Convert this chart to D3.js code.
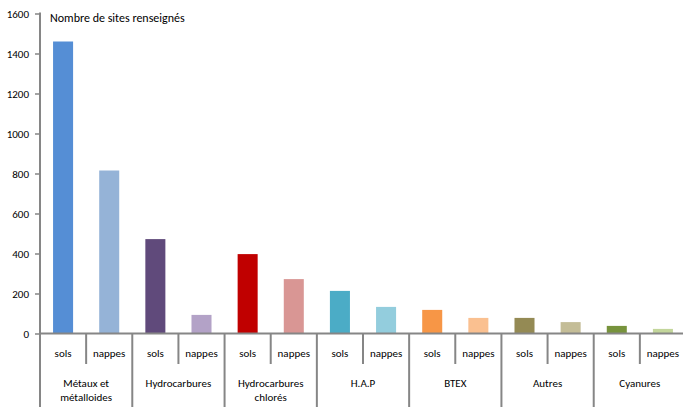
<!DOCTYPE html>
<html>
<head>
<meta charset="utf-8">
<script src="https://cdn.jsdelivr.net/npm/d3@7"></script>
<style>
  html, body { margin: 0; padding: 0; background: #fff; }
  svg { display: block; font-family: Carlito, Lato, "Open Sans", sans-serif; }
</style>
</head>
<body>
<svg id="chart" width="683" height="407"></svg>
<script>
// Pollutant families and the two media measured for each
const groups = [["Métaux et", "métalloides"], ["Hydrocarbures"], ["Hydrocarbures", "chlorés"], ["H.A.P"], ["BTEX"], ["Autres"], ["Cyanures"]];
const media = ["sols", "nappes"];
const solsValues = [1460, 472, 397, 213, 118, 78, 38];
const nappesValues = [815, 93, 272, 133, 78, 57, 23];
const solsColors = ["#558ED5", "#604A7B", "#C00000", "#4BACC6", "#F79646", "#948A54", "#77933C"];
const nappesColors = ["#95B3D7", "#B3A2C7", "#D99694", "#93CDDD", "#FAC090", "#C4BD97", "#C3D69B"];
const yTicks = [0, 200, 400, 600, 800, 1000, 1200, 1400, 1600];
const yTitle = "Nombre de sites renseignés";

const svg = d3.select("#chart");
const plotLeft = 40, plotRight = 686, plotTop = 13.5, baseY = 333.5, plotBottom = 407;
const axisColor = "#868686";

const x0 = d3.scaleBand().domain(d3.range(groups.length)).range([plotLeft, plotRight]).padding(0);
const x1 = d3.scaleBand().domain(media).range([0, x0.bandwidth()]).paddingInner(0.566).paddingOuter(0.283);
const y = d3.scaleLinear().domain([0, 1600]).range([baseY, plotTop]);

const rows = groups.map((g, i) => ({
  i,
  label: g,
  bars: [
    { m: "sols", v: solsValues[i], c: solsColors[i] },
    { m: "nappes", v: nappesValues[i], c: nappesColors[i] }
  ]
}));

// Bars
const gRows = svg.append("g").selectAll("g").data(rows).join("g")
  .attr("transform", d => `translate(${x0(d.i)},0)`);
gRows.selectAll("rect").data(d => d.bars).join("rect")
  .attr("x", d => x1(d.m))
  .attr("width", x1.bandwidth())
  .attr("y", d => y(d.v))
  .attr("height", d => y(0) - y(d.v))
  .attr("fill", d => d.c);

// Y axis
const yAxis = d3.axisLeft(y).tickValues(yTicks).tickSize(5).tickPadding(6).tickFormat(d3.format("d"));
const ga = svg.append("g").attr("transform", `translate(${plotLeft},0)`).call(yAxis);
ga.select(".domain").remove();
ga.selectAll(".tick line").attr("stroke", axisColor).attr("stroke-width", 1.5);
ga.selectAll(".tick text").attr("fill", "#000").attr("font-size", 11).attr("font-family", "Carlito, Lato, sans-serif");
svg.append("line").attr("x1", plotLeft).attr("x2", plotLeft).attr("y1", plotTop - 1).attr("y2", plotBottom)
  .attr("stroke", axisColor).attr("stroke-width", 2);

// X axis baseline
svg.append("line").attr("x1", plotLeft).attr("x2", 683).attr("y1", baseY).attr("y2", baseY)
  .attr("stroke", axisColor).attr("stroke-width", 2);

// Sub-category separators and labels
rows.forEach(r => {
  const gx = x0(r.i);
  const half = x0.bandwidth() / 2;
  // divider between sols and nappes
  svg.append("line").attr("x1", gx + half).attr("x2", gx + half).attr("y1", baseY).attr("y2", 364)
    .attr("stroke", axisColor).attr("stroke-width", 2);
  // group divider
  if (r.i > 0) {
    svg.append("line").attr("x1", gx).attr("x2", gx).attr("y1", baseY).attr("y2", plotBottom)
      .attr("stroke", axisColor).attr("stroke-width", 2);
  }
  media.forEach(m => {
    svg.append("text").attr("x", gx + x1(m) + x1.bandwidth() / 2).attr("y", 357)
      .attr("text-anchor", "middle").attr("font-size", 11).text(m);
  });
  r.label.forEach((line, k) => {
    svg.append("text").attr("x", gx + half).attr("y", 387 + k * 13.5)
      .attr("text-anchor", "middle").attr("font-size", 11).text(line);
  });
});

// Title
svg.append("text").attr("x", 50).attr("y", 22).attr("font-size", 12).text(yTitle);
</script>
</body>
</html>
